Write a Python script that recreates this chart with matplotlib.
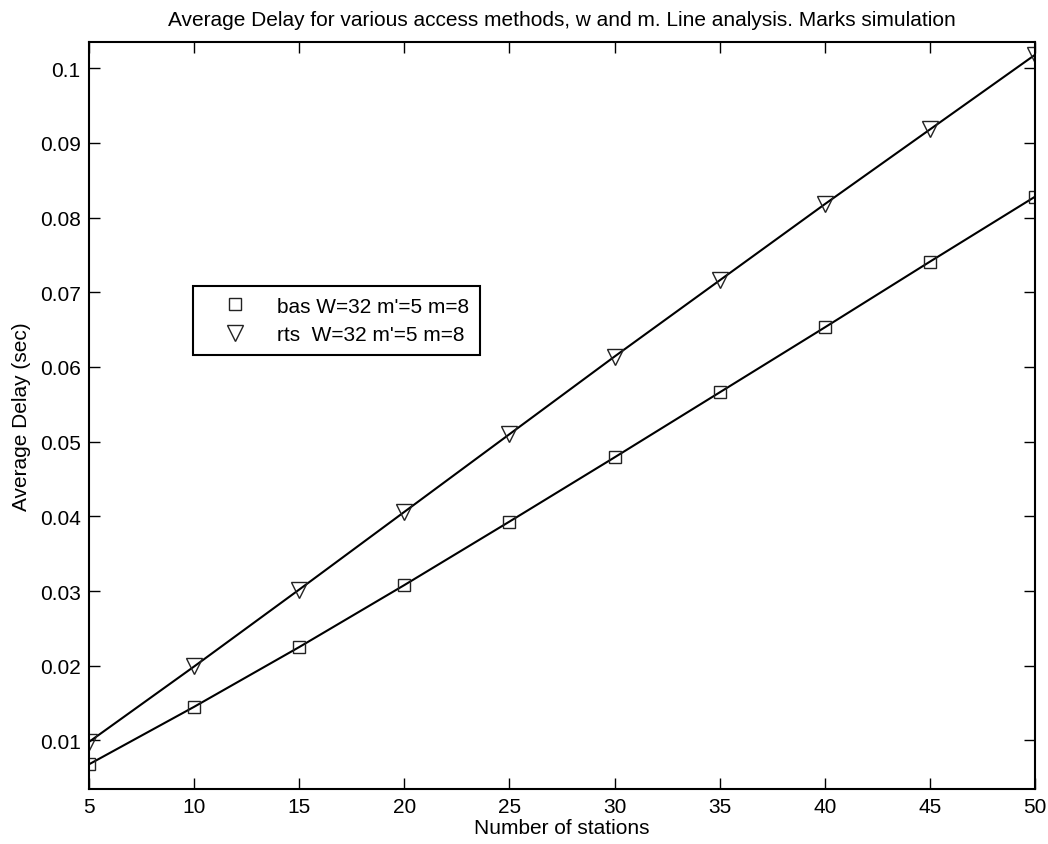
import matplotlib
matplotlib.use("Agg")
import matplotlib.pyplot as plt

plt.rcParams['font.family'] = ['Liberation Sans', 'DejaVu Sans']

stations = [5, 10, 15, 20, 25, 30, 35, 40, 45, 50]
bas = [0.0068, 0.0145, 0.0225, 0.0308, 0.0393, 0.0479, 0.0566, 0.0653, 0.0741, 0.0828]
rts = [0.0098, 0.0199, 0.0302, 0.0406, 0.0510, 0.0614, 0.0716, 0.0818, 0.0918, 0.1018]
xticks = [5, 10, 15, 20, 25, 30, 35, 40, 45, 50]
yticks = [0.01, 0.02, 0.03, 0.04, 0.05, 0.06, 0.07, 0.08, 0.09, 0.1]
ytick_labels = ['0.01', '0.02', '0.03', '0.04', '0.05', '0.06', '0.07', '0.08', '0.09', '0.1']

fig = plt.figure(figsize=(10.48, 8.45), dpi=100)
ax = fig.add_axes([0.0849, 0.0651, 0.9027, 0.8839])

ax.plot(stations, bas, color='black', lw=1.5)
ax.plot(stations, rts, color='black', lw=1.5)
ax.plot(stations, bas, ls='none', marker='s', ms=9, mfc='none', mec='#222222', mew=1.0,
        label="bas W=32 m'=5 m=8")
ax.plot(stations, rts, ls='none', marker='v', ms=11, mfc='none', mec='#222222', mew=1.0,
        label="rts  W=32 m'=5 m=8")

ax.set_xlim(5, 50)
ax.set_ylim(0.0035, 0.1035)
ax.set_xticks(xticks)
ax.set_yticks(yticks)
ax.set_yticklabels(ytick_labels)
ax.tick_params(direction='in', top=True, right=True, length=8, width=1.0, labelsize=15, pad=6)
for s in ax.spines.values():
    s.set_linewidth(1.5)

ax.set_xlabel('Number of stations', fontsize=15, labelpad=1)
ax.set_ylabel('Average Delay (sec)', fontsize=15, labelpad=6)
ax.set_title('Average Delay for various access methods, w and m. Line analysis. Marks simulation',
             fontsize=15, pad=12)

leg = ax.legend(loc='upper left', bbox_to_anchor=(0.110, 0.673), borderaxespad=0, fontsize=15,
                frameon=True, fancybox=False, edgecolor='black', framealpha=1,
                borderpad=0.5, handletextpad=0.55, handlelength=3.0, labelspacing=0.45)
leg.get_frame().set_linewidth(1.5)

fig.savefig('out.png', dpi=100)
